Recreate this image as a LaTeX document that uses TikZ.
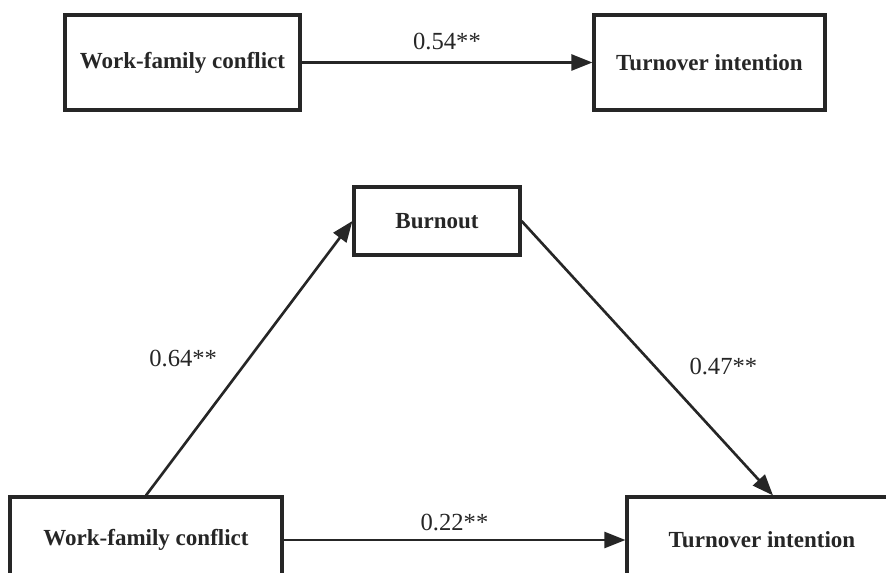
\documentclass[tikz,border=0pt]{standalone}
\usepackage{fontspec}
\setmainfont{Liberation Serif}
\usepackage{tikz}
\usetikzlibrary{arrows.meta,positioning}
\definecolor{ink}{HTML}{262626}

\begin{document}
\begin{tikzpicture}[font=\fontsize{14}{16}\selectfont, box/.style={draw=ink,line width=1.8pt,font=\fontsize{13.1}{15}\selectfont\bfseries,text=ink}, link/.style={draw=ink,line width=1.5pt,-{Triangle[length=0.42cm,width=0.32cm]}}, coef/.style={text=ink}]
\useasboundingbox (0,0) rectangle (17.72,11.46);
\clip (0,0) rectangle (17.72,11.46);
\node[box,minimum width=4.7cm,minimum height=1.9cm] (wfc) at (3.65,10.21) {Work-family conflict};
\node[box,minimum width=4.62cm,minimum height=1.9cm] (ti) at (14.19,10.21) {Turnover intention};
\node[box,minimum width=3.32cm,minimum height=1.36cm] (bo) at (8.74,7.04) {Burnout};
\node[box,minimum width=5.44cm,minimum height=1.72cm] (wfc2) at (2.92,0.66) {Work-family conflict};
\node[box,minimum width=5.4cm,minimum height=1.72cm] (ti2) at (15.24,0.66) {Turnover intention};
\draw[link] (wfc)--(ti) node[coef,midway,above=3pt] {0.54**};
\draw[link] (wfc2.north)--(bo.west) node[coef,midway,left=0.5cm] {0.64**};
\draw[link] (bo.east)--([xshift=0.22cm]ti2.north) node[coef,pos=0.53,right=0.55cm] {0.47**};
\draw[link] (wfc2)--(ti2) node[coef,midway,above=1pt] {0.22**};
\end{tikzpicture}
\end{document}
